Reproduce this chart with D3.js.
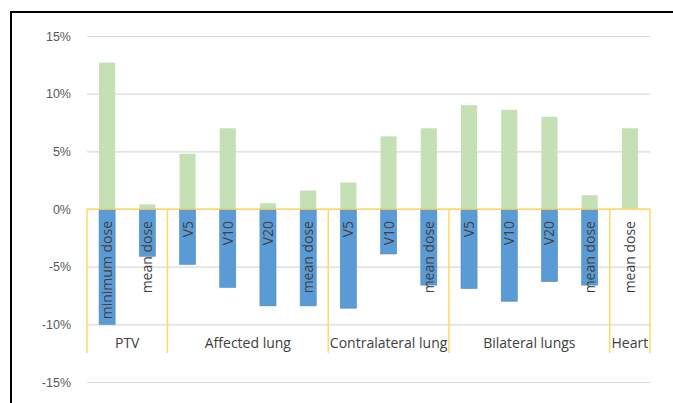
<!DOCTYPE html>
<html>
<head>
<meta charset="utf-8">
<script src="https://cdn.jsdelivr.net/npm/d3@7"></script>
<style>
  html, body { margin: 0; padding: 0; background: #fff; }
  svg { display: block; font-family: "Open Sans", Lato, sans-serif; }
</style>
</head>
<body>
<svg id="chart" width="673" height="403"></svg>
<script>
// Groups and their sub-categories
const groups = ["PTV", "Affected lung", "Contralateral lung", "Bilateral lungs", "Heart"];
const groupSizes = [2, 4, 3, 4, 1];
const subLabels = [
  "minimum dose", "mean dose",
  "V5", "V10", "V20", "mean dose",
  "V5", "V10", "mean dose",
  "V5", "V10", "V20", "mean dose",
  "mean dose"
];
// Percentage change per sub-category
const increase = [12.7, 0.4, 4.8, 7.0, 0.5, 1.6, 2.3, 6.3, 7.0, 9.0, 8.6, 8.0, 1.2, 7.0];
const decrease = [-10.0, -4.1, -4.8, -6.8, -8.4, -8.4, -8.6, -3.9, -6.6, -6.9, -8.0, -6.3, -6.6, 0];
const yTicks = [15, 10, 5, 0, -5, -10, -15];

const svg = d3.select("#chart");
const W = 673, H = 403;
const plotLeft = 87, plotRight = 650, plotTop = 36, plotBottom = 382;

// Frame around the chart area
svg.append("line").attr("x1", 11).attr("x2", W).attr("y1", 12).attr("y2", 12)
  .attr("stroke", "#000").attr("stroke-width", 2);
svg.append("line").attr("x1", 11).attr("x2", 11).attr("y1", 11).attr("y2", H)
  .attr("stroke", "#000").attr("stroke-width", 2);

const ids = subLabels.map((d, i) => i);
const x = d3.scaleBand().domain(ids).range([plotLeft, plotRight]).paddingInner(0.6).paddingOuter(0.3);
const y = d3.scaleLinear().domain([-15, 15]).range([plotBottom, plotTop]);

// Gridlines and tick labels
const yAxis = d3.axisLeft(y).tickValues(yTicks).tickSize(-(plotRight - plotLeft))
  .tickFormat(d => d + "%").tickPadding(16);
const ga = svg.append("g").attr("transform", `translate(${plotLeft},0)`).call(yAxis);
ga.select(".domain").remove();
ga.selectAll(".tick line").attr("stroke", "#d9d9d9").attr("stroke-width", 1.2);
ga.selectAll(".tick text").attr("fill", "#595959").style("font-size", "12.5px");

// Bars
svg.append("g").selectAll("rect").data(increase).join("rect")
  .attr("x", (d, i) => x(i)).attr("width", x.bandwidth())
  .attr("y", d => y(Math.max(0, d))).attr("height", d => Math.abs(y(d) - y(0)))
  .attr("fill", "#c5e0b4");
svg.append("g").selectAll("rect").data(decrease).join("rect")
  .attr("x", (d, i) => x(i)).attr("width", x.bandwidth())
  .attr("y", d => y(Math.max(0, d))).attr("height", d => Math.abs(y(d) - y(0)))
  .attr("fill", "#5b9bd5").attr("stroke", "#4f8dc7").attr("stroke-width", 0.6);

// Category axis (multi-level) in yellow
const axisColor = "#ffd966";
const axisBottom = 353;
const unit = (plotRight - plotLeft) / subLabels.length;
svg.append("line").attr("x1", plotLeft).attr("x2", plotRight).attr("y1", y(0)).attr("y2", y(0))
  .attr("stroke", axisColor).attr("stroke-width", 1.5);
let acc = 0;
const bounds = [0];
groupSizes.forEach(n => { acc += n; bounds.push(acc); });
svg.append("g").selectAll("line").data(bounds).join("line")
  .attr("x1", d => plotLeft + d * unit)
  .attr("x2", d => plotLeft + d * unit)
  .attr("y1", y(0)).attr("y2", axisBottom)
  .attr("stroke", axisColor).attr("stroke-width", 1.5);

// Rotated sub-category labels
svg.append("g").selectAll("text").data(subLabels).join("text")
  .attr("transform", (d, i) => `translate(${x(i) + x.bandwidth() / 2 + 5},${y(0) + 12}) rotate(-90)`)
  .attr("text-anchor", "end")
  .attr("fill", "#404040").style("font-size", "14px")
  .text(d => d);

// Group labels
svg.append("g").selectAll("text").data(groups).join("text")
  .attr("x", (d, i) => plotLeft + unit * (bounds[i] + bounds[i + 1]) / 2)
  .attr("y", 348)
  .attr("text-anchor", "middle")
  .attr("fill", "#404040").style("font-size", "14px")
  .text(d => d);
</script>
</body>
</html>
